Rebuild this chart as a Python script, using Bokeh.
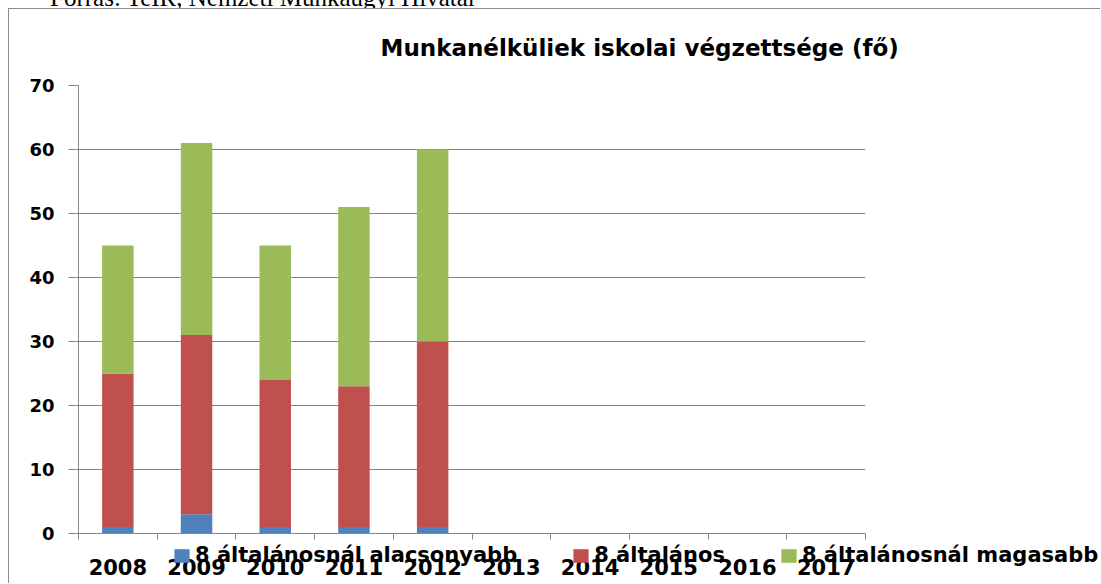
from bokeh.plotting import figure
from bokeh.models import (ColumnDataSource, FixedTicker, Legend, LegendItem,
                          Range1d, Div)
from bokeh.layouts import column
from bokeh.embed import file_html
from bokeh.resources import INLINE

# ---- data -------------------------------------------------------------
title_text = "Munkanélküliek iskolai végzettsége (fő)"
source_note = "Forrás: TeIR, Nemzeti Munkaügyi Hivatal"
years = ["2008", "2009", "2010", "2011", "2012",
         "2013", "2014", "2015", "2016", "2017"]
data_years = ["2008", "2009", "2010", "2011", "2012"]
below_8 = [1, 3, 1, 1, 1]            # 8 általánosnál alacsonyabb
elementary_8 = [24, 28, 23, 22, 29]  # 8 általános
above_8 = [20, 30, 21, 28, 30]       # 8 általánosnál magasabb
series_labels = ["8 általánosnál alacsonyabb", "8 általános",
                 "8 általánosnál magasabb"]
series_colors = ["#4F81BD", "#C0504D", "#9BBB59"]
y_ticks = [0, 10, 20, 30, 40, 50, 60, 70]

# ---- main chart -------------------------------------------------------
xpos = [years.index(y) + 0.5 for y in data_years]
src = ColumnDataSource(dict(x=xpos, low=below_8, mid=elementary_8, high=above_8))

GRAY = "#868686"
FONT = "DejaVu Sans"

fig = figure(width=1092, height=575,
             x_range=Range1d(0, len(years)), y_range=Range1d(0, 70),
             output_backend="svg", toolbar_location=None,
             min_border_left=69, min_border_right=236,
             min_border_top=76, min_border_bottom=51,
             margin=(0, 0, 0, 8), title=title_text)
fig.frame_align = False
fig.styles = {"border-top": "1px solid #8c8c8c", "border-left": "1px solid #8c8c8c"}
fig.outline_line_color = None
fig.background_fill_color = "white"
fig.border_fill_color = "white"

t = fig.title
t.text_font = FONT
t.text_font_style = "bold"
t.text_font_size = "23px"
t.text_color = "black"
t.align = "left"
t.offset = 302
t.vertical_align = "top"
t.standoff = 46

renderers = fig.vbar_stack(["low", "mid", "high"], x="x", width=0.4,
                           color=series_colors, line_color=None, source=src)

# x axis: labels at category centres, tick marks at category boundaries
xa = fig.xaxis[0]
xa.ticker = FixedTicker(ticks=[i + 0.5 for i in range(len(years))],
                        minor_ticks=list(range(len(years) + 1)))
xa.major_label_overrides = {i + 0.5: y for i, y in enumerate(years)}
xa.axis_line_color = GRAY
xa.major_tick_out = 0
xa.major_tick_in = 0
xa.minor_tick_out = 6
xa.minor_tick_in = 0
xa.minor_tick_line_color = GRAY
xa.major_label_standoff = 19
xa.major_label_text_font = FONT
xa.major_label_text_font_style = "bold"
xa.major_label_text_font_size = "21px"
xa.major_label_text_color = "black"

ya = fig.yaxis[0]
ya.ticker = FixedTicker(ticks=y_ticks)
ya.axis_line_color = GRAY
ya.major_tick_line_color = GRAY
ya.major_tick_out = 10
ya.major_tick_in = 0
ya.minor_tick_line_color = None
ya.major_label_standoff = 14
ya.major_label_text_font = FONT
ya.major_label_text_font_style = "bold"
ya.major_label_text_font_size = "18px"
ya.major_label_text_color = "black"

fig.xgrid.visible = False
fig.ygrid.ticker = FixedTicker(ticks=y_ticks)
fig.ygrid.grid_line_color = GRAY
fig.ygrid.grid_line_width = 1

# ---- legend strip: transparent figure overlapping the x-axis labels ----
legfig = figure(width=1093, height=30, output_backend="svg",
                toolbar_location=None, x_axis_type=None, y_axis_type=None,
                x_range=Range1d(0, 1), y_range=Range1d(0, 1),
                min_border=0, min_border_left=0, min_border_right=0,
                min_border_top=0, min_border_bottom=0,
                margin=(-44, 0, 0, 8))
legfig.frame_align = False
legfig.outline_line_color = None
legfig.background_fill_alpha = 0
legfig.border_fill_alpha = 0
# zero-size proxy glyphs that only carry the series colours for the legend keys
proxies = [legfig.vbar(x=[0], top=[0], bottom=[0], width=0, color=c, line_color=None)
           for c in series_colors]
legend = Legend(items=[LegendItem(label=lab, renderers=[r])
                       for r, lab in zip(proxies, series_labels)],
                location=(164, 2), orientation="horizontal",
                glyph_width=19, glyph_height=17, label_standoff=4,
                padding=0, margin=0, spacing=54,
                border_line_color=None, background_fill_alpha=0,
                label_text_font=FONT, label_text_font_style="bold",
                label_text_font_size="21px", label_text_color="black")
legfig.add_layout(legend)

note = Div(text=('<div style="position:relative;left:42px;top:-15px;'
                 "font-family:'Liberation Serif';font-size:25px;line-height:25px;"
                 'white-space:nowrap;color:#000">' + source_note + '</div>'),
           width=1093, height=8, margin=(0, 0, 0, 8),
           styles={"overflow": "hidden"})

page = column(note, fig, legfig)

open("out.html", "w").write(file_html(page, INLINE))
